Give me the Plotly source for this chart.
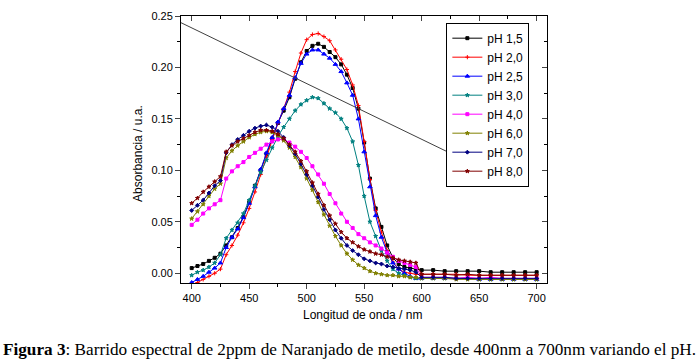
import plotly.graph_objects as go

wavelength = [400, 405, 410, 415, 420, 425, 430, 435, 440, 445, 450, 455, 460, 465, 470,
              475, 480, 485, 490, 495, 500, 505, 510, 515, 520, 525, 530, 535, 540, 545,
              550, 555, 560, 565, 570, 575, 580, 585, 590, 595,
              600, 610, 620, 630, 640, 650, 660, 670, 680, 690, 700]

ph_1_5 = [0.005, 0.007, 0.009, 0.012, 0.015, 0.019, 0.027, 0.035, 0.044, 0.055, 0.069, 0.085, 0.100, 0.116, 0.131,
          0.146, 0.158, 0.171, 0.189, 0.205, 0.216, 0.221, 0.223, 0.220, 0.215, 0.210, 0.203, 0.193, 0.180, 0.160,
          0.127, 0.092, 0.063, 0.045, 0.027, 0.015, 0.009, 0.006, 0.005, 0.004,
          0.003, 0.003, 0.002, 0.002, 0.002, 0.002, 0.001, 0.001, 0.001, 0.001, 0.001]
ph_2_0 = [-0.012, -0.009, -0.006, -0.003, 0.000, 0.004, 0.018, 0.027, 0.037, 0.049, 0.063, 0.079, 0.096, 0.113, 0.130,
          0.146, 0.160, 0.176, 0.196, 0.214, 0.227, 0.232, 0.233, 0.230, 0.226, 0.217, 0.208, 0.198, 0.183, 0.163,
          0.128, 0.091, 0.061, 0.040, 0.022, 0.011, 0.004, 0.001, 0.000, -0.001,
          -0.001, -0.001, -0.001, -0.001, -0.002, -0.002, -0.002, -0.002, -0.002, -0.002, -0.002]
ph_2_5 = [-0.009, -0.006, -0.003, 0.001, 0.005, 0.010, 0.025, 0.035, 0.043, 0.054, 0.068, 0.084, 0.101, 0.117, 0.132,
          0.147, 0.160, 0.173, 0.190, 0.204, 0.213, 0.217, 0.217, 0.213, 0.209, 0.203, 0.196, 0.185, 0.173, 0.150,
          0.118, 0.084, 0.056, 0.035, 0.020, 0.010, 0.004, 0.000, -0.003, -0.005,
          -0.005, -0.005, -0.005, -0.005, -0.005, -0.006, -0.006, -0.006, -0.006, -0.006, -0.006]
ph_3_0 = [-0.002, 0.001, 0.003, 0.006, 0.010, 0.018, 0.034, 0.042, 0.049, 0.058, 0.071, 0.085, 0.098, 0.110, 0.122,
          0.133, 0.142, 0.150, 0.158, 0.164, 0.168, 0.171, 0.170, 0.165, 0.160, 0.156, 0.150, 0.141, 0.128, 0.105,
          0.075, 0.050, 0.036, 0.022, 0.012, 0.004, 0.000, -0.002, -0.004, -0.005,
          -0.005, -0.005, -0.005, -0.005, -0.005, -0.006, -0.006, -0.006, -0.006, -0.006, -0.006]
ph_4_0 = [0.047, 0.052, 0.058, 0.063, 0.067, 0.071, 0.092, 0.099, 0.104, 0.108, 0.113, 0.117, 0.121, 0.125, 0.128,
          0.130, 0.130, 0.127, 0.123, 0.118, 0.112, 0.104, 0.096, 0.087, 0.077, 0.068, 0.058, 0.050, 0.044, 0.038,
          0.034, 0.030, 0.027, 0.024, 0.020, 0.016, 0.012, 0.010, 0.008, 0.006,
          -0.004, -0.004, -0.004, -0.005, -0.004, -0.005, -0.004, -0.005, -0.005, -0.005, -0.005]
ph_6_0 = [0.053, 0.060, 0.067, 0.075, 0.082, 0.087, 0.112, 0.119, 0.124, 0.128, 0.132, 0.135, 0.137, 0.138, 0.137,
          0.134, 0.129, 0.122, 0.113, 0.103, 0.092, 0.081, 0.069, 0.057, 0.046, 0.036, 0.027, 0.019, 0.013, 0.008,
          0.005, 0.002, 0.000, -0.001, -0.002, -0.002, -0.003, -0.003, -0.004, -0.004,
          -0.005, -0.005, -0.005, -0.006, -0.006, -0.006, -0.006, -0.006, -0.006, -0.006, -0.006]
ph_7_0 = [0.061, 0.066, 0.071, 0.078, 0.085, 0.090, 0.117, 0.125, 0.130, 0.134, 0.138, 0.141, 0.143, 0.144, 0.142,
          0.138, 0.132, 0.124, 0.116, 0.106, 0.096, 0.085, 0.074, 0.062, 0.052, 0.042, 0.034, 0.027, 0.022, 0.018,
          0.014, 0.012, 0.010, 0.009, 0.007, 0.006, 0.005, 0.004, 0.003, 0.001,
          -0.004, -0.004, -0.004, -0.005, -0.005, -0.005, -0.005, -0.005, -0.005, -0.005, -0.005]
ph_8_0 = [0.068, 0.073, 0.079, 0.084, 0.089, 0.094, 0.118, 0.124, 0.128, 0.131, 0.134, 0.137, 0.139, 0.139, 0.138,
          0.135, 0.131, 0.125, 0.118, 0.109, 0.099, 0.088, 0.077, 0.066, 0.056, 0.048, 0.040, 0.034, 0.030, 0.026,
          0.023, 0.021, 0.019, 0.018, 0.016, 0.015, 0.013, 0.012, 0.011, 0.010,
          -0.001, -0.001, -0.001, -0.002, -0.001, -0.002, -0.002, -0.002, -0.002, -0.002, -0.002]

series_names = ["pH 1,5", "pH 2,0", "pH 2,5", "pH 3,0", "pH 4,0", "pH 6,0", "pH 7,0", "pH 8,0"]
series_values = [ph_1_5, ph_2_0, ph_2_5, ph_3_0, ph_4_0, ph_6_0, ph_7_0, ph_8_0]
series_colors = ["#000000", "#ff0000", "#0000ff", "#008080", "#ff00ff", "#808000", "#000080", "#800000"]
series_symbols = ["square", "cross-thin-open", "triangle-up", "star", "square", "star", "diamond", "star"]
series_sizes = [3, 3, 4, 3, 3, 3, 3, 3]

pointer_x = [390.7, 628]
pointer_y = [0.2435, 0.115]

x_ticks = [400, 450, 500, 550, 600, 650, 700]
y_ticks = [0.00, 0.05, 0.10, 0.15, 0.20, 0.25]

fig = go.Figure()
for name, vals, col, sym, sz in zip(series_names, series_values, series_colors, series_symbols, series_sizes):
    fig.add_trace(go.Scatter(
        x=wavelength, y=vals, name=name, mode="lines+markers",
        line=dict(color=col, width=1),
        marker=dict(color=col, symbol=sym, size=sz, line=dict(color=col, width=1)),
    ))

fig.add_trace(go.Scatter(x=pointer_x, y=pointer_y, mode="lines", showlegend=False,
                         line=dict(color="#404040", width=1), hoverinfo="skip"))

FONT = "Liberation Sans, Arial, sans-serif"
xr = [390.7, 709.0]
yr = [-0.0095, 0.25]

fig.update_layout(
    width=699, height=362,
    margin=dict(l=181, r=152, t=10, b=79),
    paper_bgcolor="white", plot_bgcolor="white",
    font=dict(family=FONT, size=11, color="black"),
    showlegend=True,
    legend=dict(x=0.725, y=0.975, xanchor="left", yanchor="top",
                bgcolor="white", bordercolor="black", borderwidth=1,
                font=dict(family=FONT, size=12, color="black"),
                tracegroupgap=0, itemwidth=30),
    xaxis=dict(range=xr, tickvals=x_ticks, ticks="outside", ticklen=5, tickwidth=1,
               showline=True, linecolor="black", linewidth=1, showgrid=False, zeroline=False,
               tickfont=dict(family=FONT, size=11),
               minor=dict(dtick=25, ticks="outside", ticklen=3, tickcolor="black")),
    yaxis=dict(range=yr, tickvals=y_ticks, tickformat=".2f", ticks="outside", ticklen=5, tickwidth=1,
               showline=True, linecolor="black", linewidth=1, showgrid=False, zeroline=False,
               tickfont=dict(family=FONT, size=11),
               minor=dict(tick0=0, dtick=0.025, ticks="outside", ticklen=3, tickcolor="black")),
    xaxis2=dict(range=xr, overlaying="x", side="top", tickvals=x_ticks, ticks="inside", ticklen=5,
                showticklabels=False, showline=True, linecolor="black", linewidth=1, showgrid=False,
                zeroline=False,
                minor=dict(dtick=25, ticks="inside", ticklen=3, tickcolor="black")),
    yaxis2=dict(range=yr, overlaying="y", side="right", tickvals=y_ticks, ticks="inside", ticklen=5,
                showticklabels=False, showline=True, linecolor="black", linewidth=1, showgrid=False,
                zeroline=False,
                minor=dict(tick0=0, dtick=0.025, ticks="inside", ticklen=3, tickcolor="black")),
)

fig.add_trace(go.Scatter(x=[None], y=[None], xaxis="x2", yaxis="y2", showlegend=False, hoverinfo="skip"))

fig.add_annotation(text="Longitud de onda / nm", xref="paper", yref="paper", x=0.497, y=-0.118,
                   xanchor="center", yanchor="middle", showarrow=False,
                   font=dict(family=FONT, size=12, color="black"))
fig.add_annotation(text="Absorbancia / u.a.", xref="paper", yref="paper", x=-0.1175, y=0.487,
                   xanchor="center", yanchor="middle", showarrow=False, textangle=-90,
                   font=dict(family=FONT, size=12, color="black"))
fig.add_annotation(text="<b>Figura 3</b>: Barrido espectral de 2ppm de Naranjado de metilo, desde 400nm a 700nm variando el pH.",
                   xref="paper", yref="paper", x=0.4617, y=-0.25,
                   xanchor="center", yanchor="middle", showarrow=False,
                   font=dict(family="Liberation Serif, Times New Roman, serif", size=17.2, color="black"))

fig.write_html("out.html", config={"displayModeBar": False},
               post_script="document.body.style.margin='0';")
